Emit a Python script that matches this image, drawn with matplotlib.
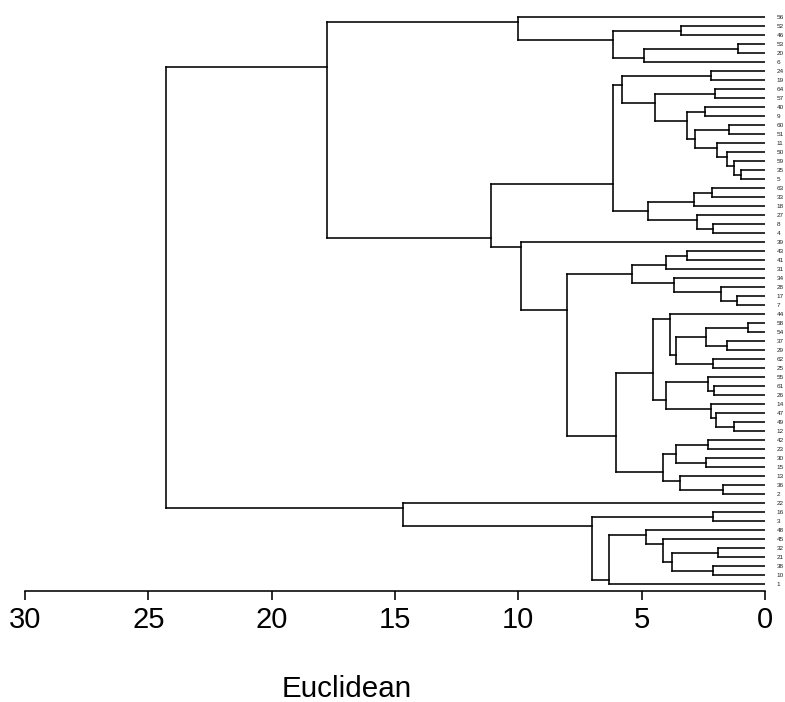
import matplotlib
matplotlib.use("Agg")
import matplotlib.pyplot as plt

plt.rcParams['font.family'] = ['Liberation Sans', 'DejaVu Sans']

# Leaf labels, top to bottom
leaf_labels = ["56", "52", "46", "53", "20", "6", "24", "19", "64", "57", "40", "9",
               "60", "51", "11", "50", "59", "35", "5", "63", "33", "18", "27", "8",
               "4", "39", "43", "41", "31", "34", "28", "17", "7", "44", "58", "54",
               "37", "29", "62", "25", "55", "61", "26", "14", "47", "49", "12", "42",
               "23", "30", "15", "13", "36", "2", "22", "16", "3", "48", "45", "32",
               "21", "38", "10", "1"]

# Merges (children are leaf labels or earlier merge names), with Euclidean heights
merge_names = ["m%d" % k for k in range(1, 64)]
merge_left = ["52", "53", "m2", "m1", "56",
              "24", "64", "40", "60", "35", "59", "50", "11", "m9", "m8", "m7", "m6",
              "63", "m18", "8", "27", "m19", "m17",
              "43", "m24", "17", "28", "34", "m25", "58", "37", "m30", "62", "m32",
              "44", "61", "55", "49", "47", "14", "m37", "m35", "42", "30", "m43",
              "36", "13", "m45", "m42", "m29", "39", "m23", "m5",
              "16", "32", "38", "m55", "45", "48", "m59", "m54", "22", "m53"]
merge_right = ["46", "20", "6", "m3", "m4",
               "19", "57", "9", "51", "5", "m10", "m11", "m12", "m13", "m14", "m15", "m16",
               "33", "18", "4", "m20", "m21", "m22",
               "41", "31", "7", "m26", "m27", "m28", "54", "29", "m31", "25", "m33",
               "m34", "26", "m36", "12", "m38", "m39", "m40", "m41", "23", "15", "m44",
               "2", "m46", "m47", "m48", "m49", "m50", "m51", "m52",
               "3", "21", "10", "m56", "m57", "m58", "1", "m60", "m61", "m62"]
merge_height = [3.40, 1.08, 4.92, 6.15, 10.03,
                2.20, 2.03, 2.43, 1.47, 0.99, 1.27, 1.56, 1.96, 2.84, 3.16, 4.46, 5.78,
                2.16, 2.87, 2.12, 2.74, 4.73, 6.17,
                3.15, 4.01, 1.12, 1.77, 3.69, 5.38, 0.70, 1.54, 2.39, 2.11, 3.62,
                3.84, 2.07, 2.32, 1.26, 1.97, 2.18, 4.03, 4.54, 2.32, 2.40, 3.62,
                1.70, 3.43, 4.13, 6.04, 8.01, 9.89, 11.10, 17.76,
                2.12, 1.89, 2.12, 3.77, 4.15, 4.81, 6.33, 7.02, 14.66, 24.29]

axis_ticks = [30, 25, 20, 15, 10, 5, 0]
axis_label = "Euclidean"

W, H = 785, 702
fig = plt.figure(figsize=(W / 100, H / 100), dpi=100)
ax = fig.add_axes([25 / W, 1 - 591 / H, (765 - 25) / W, (591 - 8) / H])

# Layout: leaves at their index; an internal node sits at the boundary
# between its upper child's last leaf and its lower child's first leaf.
pos = {lab: float(i) for i, lab in enumerate(leaf_labels)}
first = {lab: i for i, lab in enumerate(leaf_labels)}
last = {lab: i for i, lab in enumerate(leaf_labels)}
hgt = {lab: 0.0 for lab in leaf_labels}

lw = 1.15
col = "black"
for name, a, b, h in zip(merge_names, merge_left, merge_right, merge_height):
    ya, yb = pos[a], pos[b]
    ax.plot([hgt[a], h], [ya, ya], color=col, lw=lw, solid_capstyle='projecting')
    ax.plot([hgt[b], h], [yb, yb], color=col, lw=lw, solid_capstyle='projecting')
    ax.plot([h, h], [ya, yb], color=col, lw=lw, solid_capstyle='projecting')
    first[name] = first[a]
    last[name] = last[b]
    pos[name] = (last[a] + first[b]) / 2.0
    hgt[name] = h

for i, lab in enumerate(leaf_labels):
    ax.annotate(lab, xy=(0, i), xytext=(8.2, 0), textcoords='offset points',
                ha='left', va='center', fontsize=4.6, color='#222222')

n = len(leaf_labels)
ax.set_xlim(30, 0)
ax.set_ylim(n - 1 + 6.8 / 9.0, -1)
for s in ["top", "right", "left"]:
    ax.spines[s].set_visible(False)
ax.spines["bottom"].set_linewidth(1.15)
ax.set_yticks([])
ax.set_xticks(axis_ticks)
ax.set_xticklabels([str(t) for t in axis_ticks])
ax.tick_params(axis='x', direction='out', length=6.5, width=1.15, labelsize=21, pad=4)

fig.text(347 / W, 1 - 697 / H, axis_label, ha='center', va='baseline', fontsize=21.3)

fig.savefig("out.png", dpi=100)
